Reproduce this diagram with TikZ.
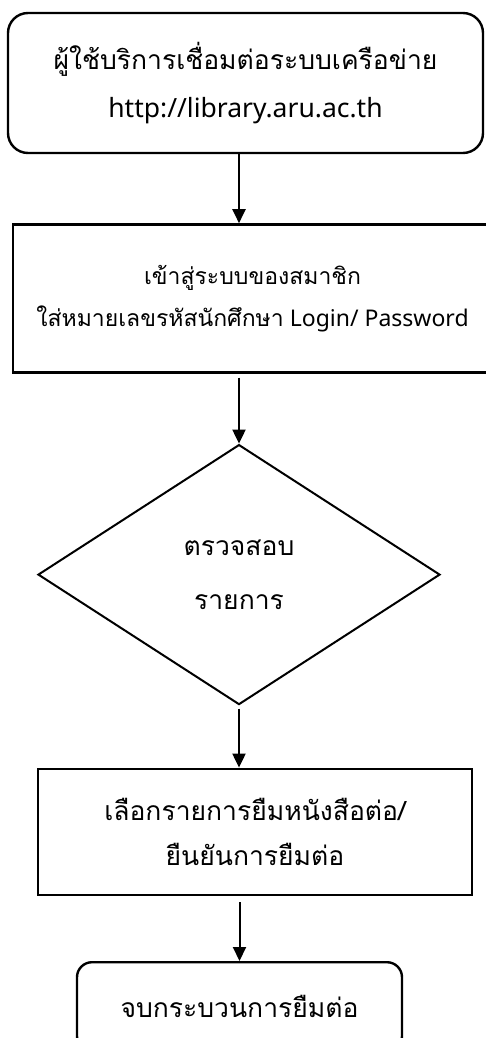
\documentclass[tikz,border=0pt]{standalone}
\usepackage{fontspec}
\setmainfont[Script=Thai]{Loma}
\newfontfamily\latinfont{Noto Sans}
\usetikzlibrary{positioning, shapes.geometric, arrows.meta}
\tikzset{
  flow/.style={-{Triangle[length=14, width=13]}, line width=2},
  terminal/.style={draw, line width=2.4, rounded corners=20, align=center},
  process/.style={draw, line width=2.4, align=center},
  decision/.style={diamond, draw, line width=2, align=center},
  every node/.style={inner sep=0}
}
\begin{document}
\begin{tikzpicture}
    \useasboundingbox (0,0) rectangle (486pt,-1038pt);
    \node[terminal, minimum width=475pt, minimum height=140pt, font=\fontsize{26.5}{48}\selectfont] (start) at (245.5pt,-83pt) {ผู้ใช้บริการเชื่อมต่อระบบเครือข่าย\\{\latinfont http://library.aru.ac.th}};
    \node[process, below=69pt of start, xshift=7pt, minimum width=479pt, minimum height=148pt, font=\fontsize{23}{42}\selectfont] (login) {เข้าสู่ระบบของสมาชิก\\ใส่หมายเลขรหัสนักศึกษา{\latinfont{} Login/ Password}};
    \node[decision, below=70pt of login, xshift=-13.5pt, minimum width=402pt, minimum height=260pt, font=\fontsize{26.5}{54}\selectfont] (check) {ตรวจสอบ\\รายการ};
    \node[process, below=62pt of check, xshift=16pt, minimum width=434pt, minimum height=126pt, font=\fontsize{26.5}{45}\selectfont] (select) {เลือกรายการยืมหนังสือต่อ/\\ยืนยันการยืมต่อ};
    \node[terminal, below=65pt of select, xshift=-15.5pt, minimum width=325pt, minimum height=89pt, rounded corners=15, font=\fontsize{26.5}{45}\selectfont] (finish) {จบกระบวนการยืมต่อ};
    \draw[flow] (start.south -| check.north) -- (login.north -| check.north);
    \draw[flow, shorten <=4] (login.south -| check.north) -- (check.north);
    \draw[flow, shorten <=3] (check.south) -- (select.north -| check.south);
    \draw[flow, shorten <=6] (select.south -| finish.north) -- (finish.north);
\end{tikzpicture}
\end{document}
